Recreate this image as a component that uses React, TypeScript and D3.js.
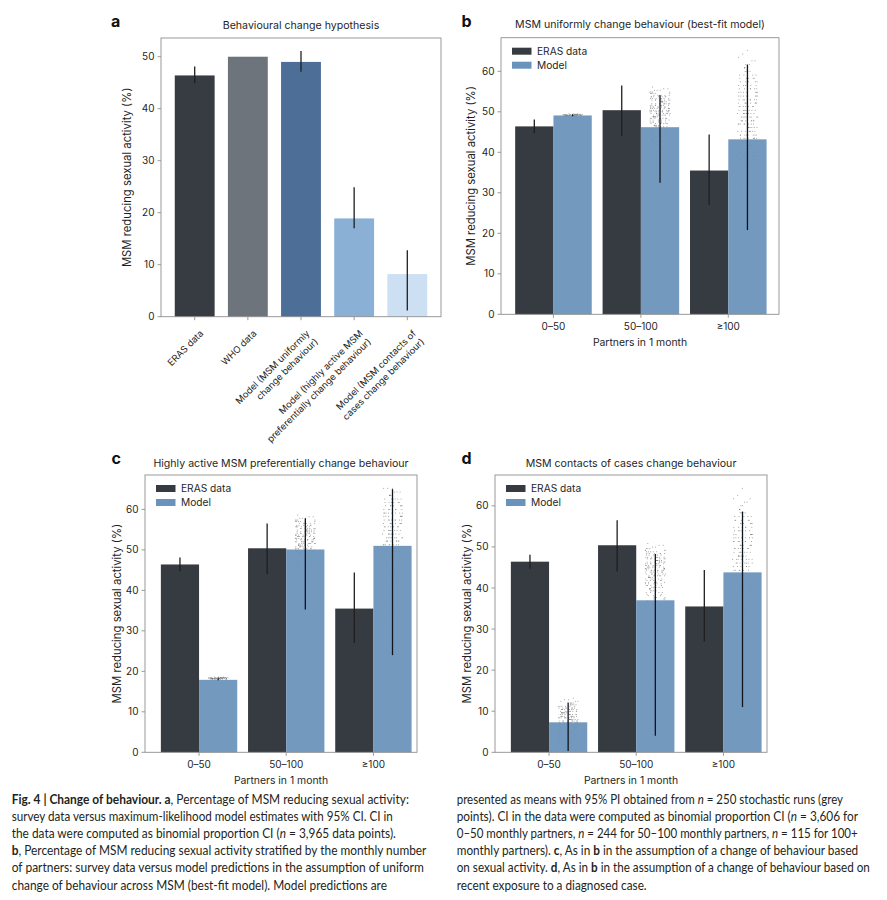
import React, { useEffect, useRef } from 'react';
import * as d3 from 'd3';

const W = 887;
const H = 900;
const FONT = 'Inter, "Liberation Sans", Arial, sans-serif';
const CAPTION_FONT = 'Lato, "Noto Sans", sans-serif';

// ---- panel a: behavioural change hypothesis ----
const hypothesisLabels = [
  ['ERAS data'],
  ['WHO data'],
  ['Model (MSM uniformly', 'change behaviour)'],
  ['Model (highly active MSM', 'preferentially change behaviour)'],
  ['Model (MSM contacts of', 'cases change behaviour)'],
];
const hypothesisValues = [46.4, 50.0, 49.0, 18.9, 8.2];
const hypothesisLow = [44.9, null, 47.1, 17.0, 1.2];
const hypothesisHigh = [48.1, null, 51.1, 24.9, 12.8];
const hypothesisColors = ['#373b42', '#6e747c', '#4d6e96', '#8ab0d5', '#cde0f3'];

// ---- panels b-d: stratified by partners ----
const partnerGroups = ['0–50', '50–100', '≥100'];
const erasValues = [46.4, 50.4, 35.5];
const erasLow = [44.7, 44.0, 27.0];
const erasHigh = [48.1, 56.5, 44.4];

const uniformMeans = [49.1, 46.2, 43.2];
const uniformLow = [48.9, 32.5, 20.8];
const uniformHigh = [49.4, 54.1, 61.6];

const activeMeans = [17.9, 50.1, 51.0];
const activeLow = [17.8, 35.3, 24.0];
const activeHigh = [18.5, 57.8, 65.0];

const contactsMeans = [7.3, 37.0, 43.8];
const contactsLow = [0.3, 4.0, 11.0];
const contactsHigh = [12.1, 48.3, 58.6];

// stochastic runs as [value, count]
const uniformRuns050 = [[49.5, 3], [49.4, 8], [49.3, 14], [49.2, 18], [49.1, 14], [49.0, 8], [48.9, 4]];
const uniformRuns50100 = [
  [56.1, 1], [55.7, 2], [55.3, 3], [54.9, 4], [54.5, 5], [54.1, 6], [53.7, 7], [53.3, 7], [52.9, 8],
  [52.5, 8], [52.0, 8], [51.6, 9], [51.2, 9], [50.8, 9], [50.4, 9], [50.0, 9], [49.6, 9], [49.2, 8],
  [48.8, 8], [48.4, 8], [48.0, 7], [47.5, 7], [47.1, 7], [46.7, 6], [46.3, 6], [45.9, 6], [45.5, 5],
  [45.1, 5], [44.7, 4], [44.3, 4], [43.9, 4], [43.4, 3], [43.0, 3], [42.6, 3], [42.2, 2], [41.8, 2],
  [41.4, 2], [41.0, 2], [40.2, 2], [39.3, 2], [38.5, 1], [37.7, 1], [36.9, 1], [35.7, 1], [34.4, 1], [32.4, 1],
];
const uniformRuns100 = [
  [65.2, 1], [64.3, 1], [63.5, 1], [62.6, 2], [61.7, 3], [60.9, 3], [60.0, 4], [59.1, 4], [58.3, 5],
  [57.4, 5], [56.5, 6], [55.7, 6], [54.8, 7], [53.9, 7], [53.0, 7], [52.2, 8], [51.3, 8], [50.4, 8],
  [49.6, 8], [48.7, 8], [47.8, 8], [47.0, 8], [46.1, 8], [45.2, 8], [44.3, 8], [43.5, 8], [42.6, 8],
  [41.7, 7], [40.9, 7], [40.0, 7], [39.1, 6], [38.3, 6], [37.4, 5], [36.5, 5], [35.7, 4], [34.8, 4],
  [33.9, 3], [33.0, 3], [32.2, 3], [31.3, 2], [30.4, 2], [29.6, 2], [28.7, 2], [27.8, 1], [27.0, 1],
  [25.2, 1], [23.5, 1], [20.9, 1], [19.1, 1],
];

const activeRuns050 = [[18.6, 3], [18.5, 8], [18.4, 12], [18.3, 14], [18.2, 12], [18.1, 8], [18.0, 4]];
const activeRuns50100 = [
  [58.6, 1], [58.2, 2], [57.8, 3], [57.4, 4], [57.0, 5], [56.6, 6], [56.1, 6], [55.7, 7], [55.3, 7],
  [54.9, 8], [54.5, 8], [54.1, 8], [53.7, 9], [53.3, 9], [52.9, 9], [52.5, 9], [52.0, 9], [51.6, 8],
  [51.2, 8], [50.8, 8], [50.4, 8], [50.0, 7], [49.6, 7], [49.2, 7], [48.8, 6], [48.4, 6], [48.0, 5],
  [47.5, 5], [47.1, 4], [46.7, 4], [46.3, 4], [45.9, 3], [45.5, 3], [45.1, 3], [44.7, 2], [44.3, 2],
  [43.9, 2], [43.0, 2], [42.2, 2], [41.4, 1], [40.6, 1], [39.8, 1], [38.9, 1], [37.7, 1], [36.5, 1],
  [35.2, 1], [33.6, 1],
];
const activeRuns100 = [
  [65.2, 3], [64.3, 4], [63.5, 5], [62.6, 6], [61.7, 6], [60.9, 7], [60.0, 7], [59.1, 8], [58.3, 8],
  [57.4, 8], [56.5, 8], [55.7, 8], [54.8, 8], [53.9, 8], [53.0, 8], [52.2, 8], [51.3, 8], [50.4, 7],
  [49.6, 7], [48.7, 7], [47.8, 6], [47.0, 6], [46.1, 5], [45.2, 5], [44.3, 4], [43.5, 4], [42.6, 4],
  [41.7, 3], [40.9, 3], [40.0, 3], [39.1, 2], [38.3, 2], [37.4, 2], [36.5, 2], [35.7, 1], [34.8, 1],
  [33.9, 1], [33.0, 1], [31.3, 1], [29.6, 1], [27.8, 1], [26.1, 1], [24.3, 1], [22.6, 1],
];

const contactsRuns050 = [
  [13.2, 1], [12.8, 2], [12.4, 3], [12.0, 4], [11.6, 5], [11.2, 6], [10.8, 7], [10.4, 8], [10.0, 8],
  [9.6, 9], [9.2, 9], [8.8, 9], [8.4, 9], [8.0, 9], [7.6, 9], [7.2, 9], [6.8, 8], [6.4, 8], [6.0, 8],
  [5.6, 7], [5.2, 7], [4.8, 7], [4.4, 6], [4.0, 6], [3.6, 5], [3.2, 5], [2.8, 4], [2.4, 4], [2.0, 3],
  [1.6, 3], [1.2, 2], [0.8, 2], [0.4, 2], [0.1, 1],
];
const contactsRuns50100 = [
  [50.8, 1], [50.4, 2], [50.0, 2], [49.6, 3], [49.2, 4], [48.8, 5], [48.4, 6], [48.0, 6], [47.5, 7],
  [47.1, 7], [46.7, 8], [46.3, 8], [45.9, 8], [45.5, 8], [45.1, 8], [44.7, 8], [44.3, 8], [43.9, 7],
  [43.4, 7], [43.0, 7], [42.6, 7], [42.2, 6], [41.8, 6], [41.4, 6], [41.0, 5], [40.6, 5], [40.2, 5],
  [39.8, 4], [39.3, 4], [38.9, 4], [38.5, 3], [38.1, 3], [37.7, 3], [37.3, 3], [36.9, 2], [36.1, 2],
  [35.2, 2], [34.4, 2], [33.6, 2], [32.0, 2], [30.3, 2], [28.7, 2], [26.6, 2], [24.6, 1], [22.1, 1],
  [19.7, 1], [17.2, 1], [14.8, 1], [12.3, 1], [9.0, 1], [5.7, 1], [2.5, 1],
];
const contactsRuns100 = [
  [64.3, 1], [62.6, 1], [61.7, 2], [60.9, 2], [60.0, 2], [59.1, 3], [58.3, 4], [57.4, 5], [56.5, 5],
  [55.7, 6], [54.8, 6], [53.9, 6], [53.0, 7], [52.2, 7], [51.3, 7], [50.4, 7], [49.6, 7], [48.7, 7],
  [47.8, 7], [47.0, 7], [46.1, 7], [45.2, 6], [44.3, 6], [43.5, 6], [42.6, 5], [41.7, 5], [40.9, 5],
  [40.0, 4], [39.1, 4], [38.3, 4], [37.4, 3], [36.5, 3], [35.7, 3], [34.8, 3], [33.9, 2], [33.0, 2],
  [31.3, 2], [29.6, 2], [27.8, 2], [26.1, 2], [24.3, 1], [21.7, 1], [19.1, 1], [16.5, 1], [13.9, 1],
  [11.3, 1], [8.7, 1],
];

const yTicksA = [0, 10, 20, 30, 40, 50];
const yTicksB = [0, 10, 20, 30, 40, 50, 60];

const ERAS_COLOR = '#363a41';
const MODEL_COLOR = '#6a93bb';
const SPINE = '#8f8f8f';
const INK = '#1f1f1f';

type Frame = { left: number; right: number; top: number; bottom: number; xMin: number; xMax: number; yMax: number };

const frameA: Frame = { left: 161, right: 441, top: 38, bottom: 316.7, xMin: -0.634, xMax: 4.634, yMax: 53.6 };
const frameB: Frame = { left: 501, right: 779, top: 37.7, bottom: 314.3, xMin: -0.6, xMax: 2.58, yMax: 68.3 };
const frameC: Frame = { left: 145, right: 417, top: 475, bottom: 752.3, xMin: -0.62, xMax: 2.5, yMax: 68.5 };
const frameD: Frame = { left: 495, right: 767, top: 475, bottom: 752.3, xMin: -0.62, xMax: 2.5, yMax: 67.5 };

type Seg = [string, string];
const captionLeft: Seg[][] = [
  [['Fig. 4 | Change of behaviour. a', 'b'], [', Percentage of MSM reducing sexual activity:', '']],
  [['survey data versus maximum-likelihood model estimates with 95% CI. CI in', '']],
  [['the data were computed as binomial proportion CI (', ''], ['n', 'i'], [' = 3,965 data points).', '']],
  [['b', 'b'], [', Percentage of MSM reducing sexual activity stratified by the monthly number', '']],
  [['of partners: survey data versus model predictions in the assumption of uniform', '']],
  [['change of behaviour across MSM (best-fit model). Model predictions are', '']],
];
const captionRight: Seg[][] = [
  [['presented as means with 95% PI obtained from ', ''], ['n', 'i'], [' = 250 stochastic runs (grey', '']],
  [['points). CI in the data were computed as binomial proportion CI (', ''], ['n', 'i'], [' = 3,606 for', '']],
  [['0–50 monthly partners, ', ''], ['n', 'i'], [' = 244 for 50–100 monthly partners, ', ''], ['n', 'i'], [' = 115 for 100+', '']],
  [['monthly partners). ', ''], ['c', 'b'], [', As in ', ''], ['b', 'b'], [' in the assumption of a change of behaviour based', '']],
  [['on sexual activity. ', ''], ['d', 'b'], [', As in ', ''], ['b', 'b'], [' in the assumption of a change of behaviour based on', '']],
  [['recent exposure to a diagnosed case.', '']],
];
const captionLeftEnds = [409, 393, 396, 426.7, 424, 387.3];
const captionRightEnds = [843.3, 858.3, 857.7, 858.3, 870, 646.7];

type Sel = d3.Selection<SVGGElement, unknown, null, undefined>;
type SvgSel = d3.Selection<SVGSVGElement, unknown, null, undefined>;

function drawFrame(g: Sel, f: Frame, y: d3.ScaleLinear<number, number>, ticks: number[], label: string, labelX: number) {
  g.append('rect')
    .attr('x', f.left).attr('y', f.top)
    .attr('width', f.right - f.left).attr('height', f.bottom - f.top)
    .attr('fill', 'none').attr('stroke', SPINE).attr('stroke-width', 0.9);
  const yt = g.append('g');
  ticks.forEach((t) => {
    yt.append('line').attr('x1', f.left - 3.5).attr('x2', f.left)
      .attr('y1', y(t)).attr('y2', y(t)).attr('stroke', SPINE).attr('stroke-width', 0.9);
    yt.append('text').attr('x', f.left - 6.5).attr('y', y(t)).attr('dy', '0.36em')
      .attr('text-anchor', 'end').style('font-size', '10px').style('font-family', FONT)
      .attr('fill', INK).text(t);
  });
  g.append('text')
    .attr('transform', `translate(${f.left - labelX},${(f.top + f.bottom) / 2}) rotate(-90)`)
    .attr('text-anchor', 'middle').style('font-size', '11.3px').style('font-family', FONT)
    .attr('fill', INK).text(label);
}

function drawHypothesis(svg: SvgSel) {
  const f = frameA;
  const g = svg.append('g');
  const x = d3.scaleLinear().domain([f.xMin, f.xMax]).range([f.left, f.right]);
  const y = d3.scaleLinear().domain([0, f.yMax]).range([f.bottom, f.top]);
  const bw = 0.75;

  g.selectAll('rect.bar').data(hypothesisValues).enter().append('rect')
    .attr('x', (_, i) => x(i - bw / 2)).attr('width', x(bw) - x(0))
    .attr('y', (d) => y(d)).attr('height', (d) => y(0) - y(d))
    .attr('fill', (_, i) => hypothesisColors[i]);

  hypothesisValues.forEach((_, i) => {
    const lo = hypothesisLow[i];
    const hi = hypothesisHigh[i];
    if (lo == null || hi == null) return;
    g.append('line').attr('x1', x(i)).attr('x2', x(i)).attr('y1', y(lo)).attr('y2', y(hi))
      .attr('stroke', INK).attr('stroke-width', 1.3);
  });

  drawFrame(g, f, y, yTicksA, 'MSM reducing sexual activity (%)', 30);

  // rotated category labels
  const k = Math.SQRT1_2;
  hypothesisLabels.forEach((lines, i) => {
    const tx = x(i);
    g.append('line').attr('x1', tx).attr('x2', tx).attr('y1', f.bottom).attr('y2', f.bottom + 3.5)
      .attr('stroke', SPINE).attr('stroke-width', 0.9);
    lines.forEach((line, j) => {
      const off = 7.5 + j * 11.7;
      const px = tx + 4 + off * k;
      const py = f.bottom + 12 + off * k;
      g.append('text').attr('transform', `translate(${px},${py}) rotate(-45)`)
        .attr('text-anchor', 'end').style('font-size', '9.3px').style('font-family', FONT)
        .attr('fill', INK).text(line);
    });
  });

  g.append('text').attr('x', (f.left + f.right) / 2).attr('y', 28.5).attr('text-anchor', 'middle')
    .style('font-size', '10.6px').style('font-family', FONT).attr('fill', INK)
    .text('Behavioural change hypothesis');
  g.append('text').attr('x', 111).attr('y', 26.7).style('font-size', '16px').style('font-weight', 'bold')
    .style('font-family', FONT).attr('fill', '#111').text('a');
}

type GroupedSpec = {
  frame: Frame;
  letter: string;
  letterX: number;
  letterY: number;
  title: string;
  titleY: number;
  labelX: number;
  means: number[];
  low: number[];
  high: number[];
  runs: number[][][];
};

function drawGrouped(svg: SvgSel, s: GroupedSpec) {
  const f = s.frame;
  const g = svg.append('g');
  const x = d3.scaleLinear().domain([f.xMin, f.xMax]).range([f.left, f.right]);
  const y = d3.scaleLinear().domain([0, f.yMax]).range([f.bottom, f.top]);
  const bw = 0.438;
  const jitter = 0.23;

  // grey stochastic-run points, behind the bars
  const pts = g.append('g');
  s.runs.forEach((runs, gi) => {
    const cx = gi + bw / 2;
    let n = 0;
    runs.forEach(([v, c]) => {
      for (let j = 0; j < c; j++) {
        const t = ((n + 1) * 0.7548776662 + (n * n) * 0.0131 + gi * 0.37) % 1;
        n++;
        pts.append('circle').attr('cx', x(cx + (t - 0.5) * jitter)).attr('cy', y(v))
          .attr('r', 0.5).attr('fill', '#7d7d7d').attr('fill-opacity', 0.85);
      }
    });
  });

  const bars = g.append('g');
  bars.selectAll('rect.eras').data(erasValues).enter().append('rect')
    .attr('x', (_, i) => x(i - bw)).attr('width', x(bw) - x(0))
    .attr('y', (d) => y(d)).attr('height', (d) => y(0) - y(d))
    .attr('fill', ERAS_COLOR);
  bars.selectAll('rect.model').data(s.means).enter().append('rect')
    .attr('x', (_, i) => x(i)).attr('width', x(bw) - x(0))
    .attr('y', (d) => y(d)).attr('height', (d) => y(0) - y(d))
    .attr('fill', MODEL_COLOR).attr('fill-opacity', 0.94);

  partnerGroups.forEach((_, i) => {
    g.append('line').attr('x1', x(i - bw / 2)).attr('x2', x(i - bw / 2))
      .attr('y1', y(erasLow[i])).attr('y2', y(erasHigh[i])).attr('stroke', INK).attr('stroke-width', 1.3);
    g.append('line').attr('x1', x(i + bw / 2)).attr('x2', x(i + bw / 2))
      .attr('y1', y(s.low[i])).attr('y2', y(s.high[i])).attr('stroke', '#10151c').attr('stroke-width', 1.3);
  });

  drawFrame(g, f, y, yTicksB, 'MSM reducing sexual activity (%)', s.labelX);

  partnerGroups.forEach((lab, i) => {
    g.append('line').attr('x1', x(i)).attr('x2', x(i)).attr('y1', f.bottom).attr('y2', f.bottom + 3.5)
      .attr('stroke', SPINE).attr('stroke-width', 0.9);
    g.append('text').attr('x', x(i)).attr('y', f.bottom + 15.8).attr('text-anchor', 'middle')
      .style('font-size', '10px').style('font-family', FONT).attr('fill', INK).text(lab);
  });

  g.append('text').attr('x', (f.left + f.right) / 2).attr('y', f.bottom + 31.7).attr('text-anchor', 'middle')
    .style('font-size', '10.4px').style('font-family', FONT).attr('fill', INK).text('Partners in 1 month');

  // legend
  const legend = [['ERAS data', ERAS_COLOR], ['Model', MODEL_COLOR]];
  legend.forEach(([name, col], i) => {
    const ly = f.top + 10 + i * 14;
    g.append('rect').attr('x', f.left + 11).attr('y', ly).attr('width', 19.5).attr('height', 7)
      .attr('fill', col);
    g.append('text').attr('x', f.left + 36).attr('y', ly + 7.3)
      .style('font-size', '10.2px').style('font-family', FONT).attr('fill', INK).text(name);
  });

  g.append('text').attr('x', (f.left + f.right) / 2).attr('y', s.titleY).attr('text-anchor', 'middle')
    .style('font-size', '10.6px').style('font-family', FONT).attr('fill', INK).text(s.title);
  g.append('text').attr('x', s.letterX).attr('y', s.letterY)
    .style('font-size', '16px').style('font-weight', 'bold').style('font-family', FONT)
    .attr('fill', '#111').text(s.letter);
}

function drawCaption(svg: SvgSel) {
  const g = svg.append('g').style('font-family', CAPTION_FONT).style('font-size', '13.6px').attr('fill', '#231f20');
  const cols: [Seg[][], number, number[]][] = [
    [captionLeft, 11.7, captionLeftEnds],
    [captionRight, 456.7, captionRightEnds],
  ];
  cols.forEach(([lines, x0, ends]) => {
    lines.forEach((segs, i) => {
      const row = g.append('g');
      const t = row.append('text').attr('x', 0).attr('y', 0);
      segs.forEach(([str, st]) => {
        const ts = t.append('tspan').text(str);
        if (st === 'b') ts.style('font-weight', 'bold');
        if (st === 'i') ts.style('font-style', 'italic');
      });
      const natural = (t.node() as SVGTextElement).getComputedTextLength() || 1;
      const sx = (ends[i] - x0) / natural;
      row.attr('transform', `translate(${x0},${804 + i * 17.1}) scale(${sx},1)`);
    });
  });
}

export default function App() {
  const ref = useRef<SVGSVGElement>(null);

  useEffect(() => {
    if (!ref.current) return;
    const svg = d3.select(ref.current);
    svg.selectAll('*').remove();
    svg.append('rect').attr('width', W).attr('height', H).attr('fill', '#ffffff');

    drawHypothesis(svg);
    drawGrouped(svg, {
      frame: frameB, letter: 'b', letterX: 461.5, letterY: 26.7,
      title: 'MSM uniformly change behaviour (best-fit model)', titleY: 28.3,
      labelX: 26, means: uniformMeans, low: uniformLow, high: uniformHigh,
      runs: [uniformRuns050, uniformRuns50100, uniformRuns100],
    });
    drawGrouped(svg, {
      frame: frameC, letter: 'c', letterX: 111.5, letterY: 464,
      title: 'Highly active MSM preferentially change behaviour', titleY: 466.5,
      labelX: 24.5, means: activeMeans, low: activeLow, high: activeHigh,
      runs: [activeRuns050, activeRuns50100, activeRuns100],
    });
    drawGrouped(svg, {
      frame: frameD, letter: 'd', letterX: 461.5, letterY: 464,
      title: 'MSM contacts of cases change behaviour', titleY: 466.5,
      labelX: 24.5, means: contactsMeans, low: contactsLow, high: contactsHigh,
      runs: [contactsRuns050, contactsRuns50100, contactsRuns100],
    });
    drawCaption(svg);
  }, []);

  return (
    <div style={{ position: 'absolute', left: 0, top: 0 }}>
      <svg ref={ref} width={W} height={H} style={{ display: 'block' }} />
    </div>
  );
}
